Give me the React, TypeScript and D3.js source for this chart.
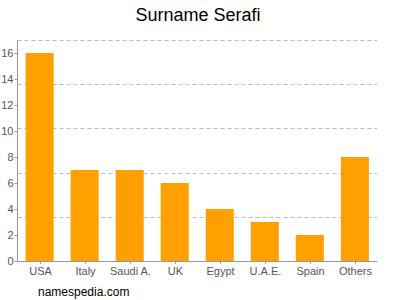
import React from "react";
import * as d3 from "d3";

const categories = ["USA", "Italy", "Saudi A.", "UK", "Egypt", "U.A.E.", "Spain", "Others"];
const values = [16, 7, 7, 6, 4, 3, 2, 8];
const yTicks = [0, 2, 4, 6, 8, 10, 12, 14, 16];
const gridValues = [3.4, 6.8, 10.2, 13.6, 17];

export default function App() {
  const W = 400, H = 300;
  const left = 17.5, right = 377, top = 40, bottom = 261;
  const x = d3.scaleBand<string>().domain(categories).range([left, right]).paddingInner(0.378).paddingOuter(0.18);
  const y = d3.scaleLinear().domain([0, 17]).range([bottom, top]);
  const font = "Liberation Sans, Arial, sans-serif";
  return (
    <svg width={W} height={H} style={{ position: "absolute", left: 0, top: 0 }} fontFamily={font}>
      <rect width={W} height={H} fill="#fff" />
      <text x={198} y={21} textAnchor="middle" fontSize={18} fill="#000">Surname Serafi</text>
      {gridValues.map((g) => (
        <line key={g} x1={left} x2={right} y1={Math.round(y(g)) + 0.5} y2={Math.round(y(g)) + 0.5}
          stroke="#bbb" strokeDasharray="4,3" strokeWidth={1} />
      ))}
      {categories.map((c, i) => (
        <rect key={c} x={x(c)} y={y(values[i])} width={x.bandwidth()} height={bottom - y(values[i])} fill="#ffa000" />
      ))}
      <line x1={left} x2={left} y1={top} y2={bottom} stroke="#999" />
      <line x1={left} x2={right} y1={bottom + 0.5} y2={bottom + 0.5} stroke="#999" />
      {yTicks.map((t) => (
        <g key={t}>
          <line x1={left - 3} x2={left} y1={Math.round(y(t)) + 0.5} y2={Math.round(y(t)) + 0.5} stroke="#999" />
          <text x={left - 4} y={y(t) + 4} textAnchor="end" fontSize={11} fill="#555">{t}</text>
        </g>
      ))}
      {categories.map((c) => {
        const cx = Math.round((x(c) as number) + x.bandwidth() / 2) + 0.5;
        return (
          <g key={c}>
            <line x1={cx} x2={cx} y1={bottom} y2={bottom + 3} stroke="#999" />
            <text x={cx} y={bottom + 14} textAnchor="middle" fontSize={11} fill="#555">{c}</text>
          </g>
        );
      })}
      <text x={38} y={296} fontSize={12} fill="#000">namespedia.com</text>
    </svg>
  );
}
